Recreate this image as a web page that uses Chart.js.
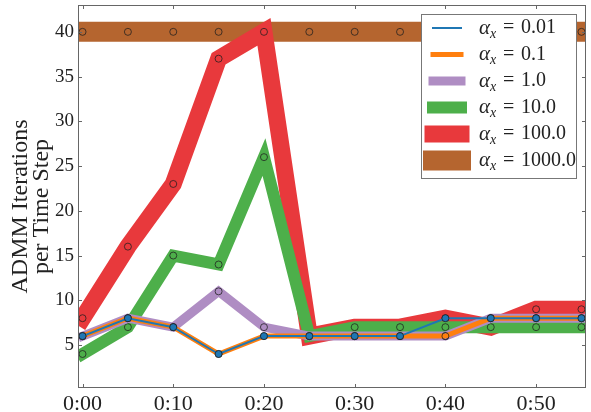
<!DOCTYPE html>
<html>
<head>
<meta charset="utf-8">
<script src="https://cdn.jsdelivr.net/npm/chart.js@4.4.1/dist/chart.umd.min.js"></script>
<style>
  body { margin: 0; background: #fff; }
  canvas { display: block; }
</style>
</head>
<body>
<canvas id="grafico" width="591" height="412"></canvas>
<script>
// dados (minutos desde 0:00)
const tempos = [0, 5, 10, 15, 20, 25, 30, 35, 40, 45, 50, 55];
const alfas = ['0.01', '0.1', '1.0', '10.0', '100.0', '1000.0'];

const iter001 = [6, 8, 7, 4, 6, 6, 6, 6, 8, 8, 8, 8];
const iter01 = [6, 8, 7, 4, 6, 6, 6, 6, 6, 8, 8, 8];
const iter1 = [6, 8, 7, 11, 7, 6, 6, 6, 6, 8, 8, 8];
const iter10 = [4, 7, 15, 14, 26, 6, 7, 7, 7, 7, 7, 7];
const iter100 = [8, 16, 23, 37, 40, 6, 7, 7, 8, 7, 9, 9];
const iter1000 = [40, 40, 40, 40, 40, 40, 40, 40, 40, 40, 40, 40];

const xTicks = [0, 10, 20, 30, 40, 50];
const xTickLabels = ['0:00', '0:10', '0:20', '0:30', '0:40', '0:50'];
const yTicks = [5, 10, 15, 20, 25, 30, 35, 40];
const yTitulo = ['ADMM Iterations', 'per Time Step'];

const FONTE = "'Liberation Serif', 'DejaVu Serif', serif";

function pontos(valores) {
    return valores.map((v, i) => ({ x: tempos[i], y: v }));
}

function serie(valores, cor, largura, cheio) {
    return {
        data: pontos(valores),
        borderColor: cor,
        borderWidth: largura,
        borderCapStyle: 'square',
        borderJoinStyle: 'miter',
        pointRadius: 3.5,
        pointBorderWidth: 1,
        pointBorderColor: 'rgba(30,30,30,0.75)',
        pointBackgroundColor: cheio ? cor : 'rgba(0,0,0,0)',
        clip: 0,
        fill: false
    };
}

// moldura, marcas de escala para dentro e título do eixo y
const molduraPlugin = {
    id: 'moldura',
    afterDatasetsDraw(chart) {
        const { ctx, chartArea: a } = chart;
        const sx = chart.scales.x, sy = chart.scales.y;
        ctx.save();
        ctx.strokeStyle = '#666';
        ctx.lineWidth = 1;
        ctx.strokeRect(a.left + 0.5, a.top + 0.5, a.right - a.left - 1, a.bottom - a.top - 1);
        ctx.beginPath();
        xTicks.forEach(v => {
            const px = Math.round(sx.getPixelForValue(v)) + 0.5;
            ctx.moveTo(px, a.bottom); ctx.lineTo(px, a.bottom - 4);
            ctx.moveTo(px, a.top); ctx.lineTo(px, a.top + 4);
        });
        yTicks.forEach(v => {
            const py = Math.round(sy.getPixelForValue(v)) + 0.5;
            ctx.moveTo(a.left, py); ctx.lineTo(a.left + 4, py);
            ctx.moveTo(a.right, py); ctx.lineTo(a.right - 4, py);
        });
        ctx.stroke();

        // título do eixo y em duas linhas
        ctx.translate(21, (a.top + a.bottom) / 2 + 10);
        ctx.rotate(-Math.PI / 2);
        ctx.fillStyle = '#222';
        ctx.font = `24px ${FONTE}`;
        ctx.textAlign = 'center';
        ctx.textBaseline = 'middle';
        yTitulo.forEach((linha, i) => ctx.fillText(linha, 0, i * 21));
        ctx.restore();
    }
};

// legenda com alfa e subscrito
const legendaPlugin = {
    id: 'legenda',
    afterDraw(chart) {
        const { ctx, chartArea: a } = chart;
        const direita = a.right - 10, topo = a.top + 9;
        const largura = 155, altura = 164;
        const esquerda = direita - largura;
        ctx.save();
        ctx.fillStyle = '#fff';
        ctx.fillRect(esquerda, topo, largura, altura);
        ctx.strokeStyle = '#777';
        ctx.lineWidth = 1;
        ctx.strokeRect(esquerda + 0.5, topo + 0.5, largura, altura);
        chart.data.datasets.forEach((ds, i) => {
            const y = topo + 14 + i * 26.5;
            ctx.beginPath();
            ctx.strokeStyle = ds.borderColor;
            ctx.lineWidth = ds.borderWidth;
            ctx.lineCap = 'square';
            ctx.moveTo(esquerda + 12, y);
            ctx.lineTo(esquerda + 40, y);
            ctx.stroke();

            ctx.fillStyle = '#222';
            ctx.textBaseline = 'middle';
            ctx.font = `italic 21px ${FONTE}`;
            ctx.fillText('α', esquerda + 58, y);
            const xs = esquerda + 58 + ctx.measureText('α').width;
            ctx.font = `italic 14px ${FONTE}`;
            ctx.fillText('x', xs, y + 6);
            ctx.font = `20px ${FONTE}`;
            ctx.fillText('=', esquerda + 82, y);
            ctx.fillText(alfas[i], esquerda + 100, y);
        });
        ctx.restore();
    }
};

new Chart(document.getElementById('grafico'), {
    type: 'line',
    data: {
        datasets: [
            serie(iter001, '#1f77b4', 2, true),
            serie(iter01, '#ff7f0e', 5, false),
            serie(iter1, '#af8dc3', 9, false),
            serie(iter10, '#4daf4a', 12, false),
            serie(iter100, '#e8393c', 17, false),
            serie(iter1000, '#b5652f', 20, false)
        ]
    },
    options: {
        responsive: false,
        animation: false,
        devicePixelRatio: 1,
        events: [],
        layout: { padding: { top: 5, right: 4, left: 0, bottom: 0 } },
        plugins: {
            legend: { display: false },
            tooltip: { enabled: false }
        },
        scales: {
            x: {
                type: 'linear',
                min: -0.5,
                max: 55.5,
                afterBuildTicks: s => { s.ticks = xTicks.map(v => ({ value: v })); },
                afterFit: s => { s.height = 24; s.paddingLeft = 0; s.paddingRight = 0; },
                grid: { display: false, drawTicks: false },
                border: { display: false },
                ticks: {
                    padding: 3,
                    color: '#222',
                    font: { family: FONTE, size: 22 },
                    maxRotation: 0,
                    callback: v => xTickLabels[xTicks.indexOf(v)]
                }
            },
            y: {
                min: 0.2,
                max: 43,
                afterBuildTicks: s => { s.ticks = yTicks.map(v => ({ value: v })); },
                afterFit: s => { s.width = 78; s.paddingTop = 0; s.paddingBottom = 0; },
                grid: { display: false, drawTicks: false },
                border: { display: false },
                ticks: {
                    padding: 4,
                    color: '#222',
                    font: { family: FONTE, size: 19 }
                }
            }
        }
    },
    plugins: [molduraPlugin, legendaPlugin]
});
</script>
</body>
</html>
